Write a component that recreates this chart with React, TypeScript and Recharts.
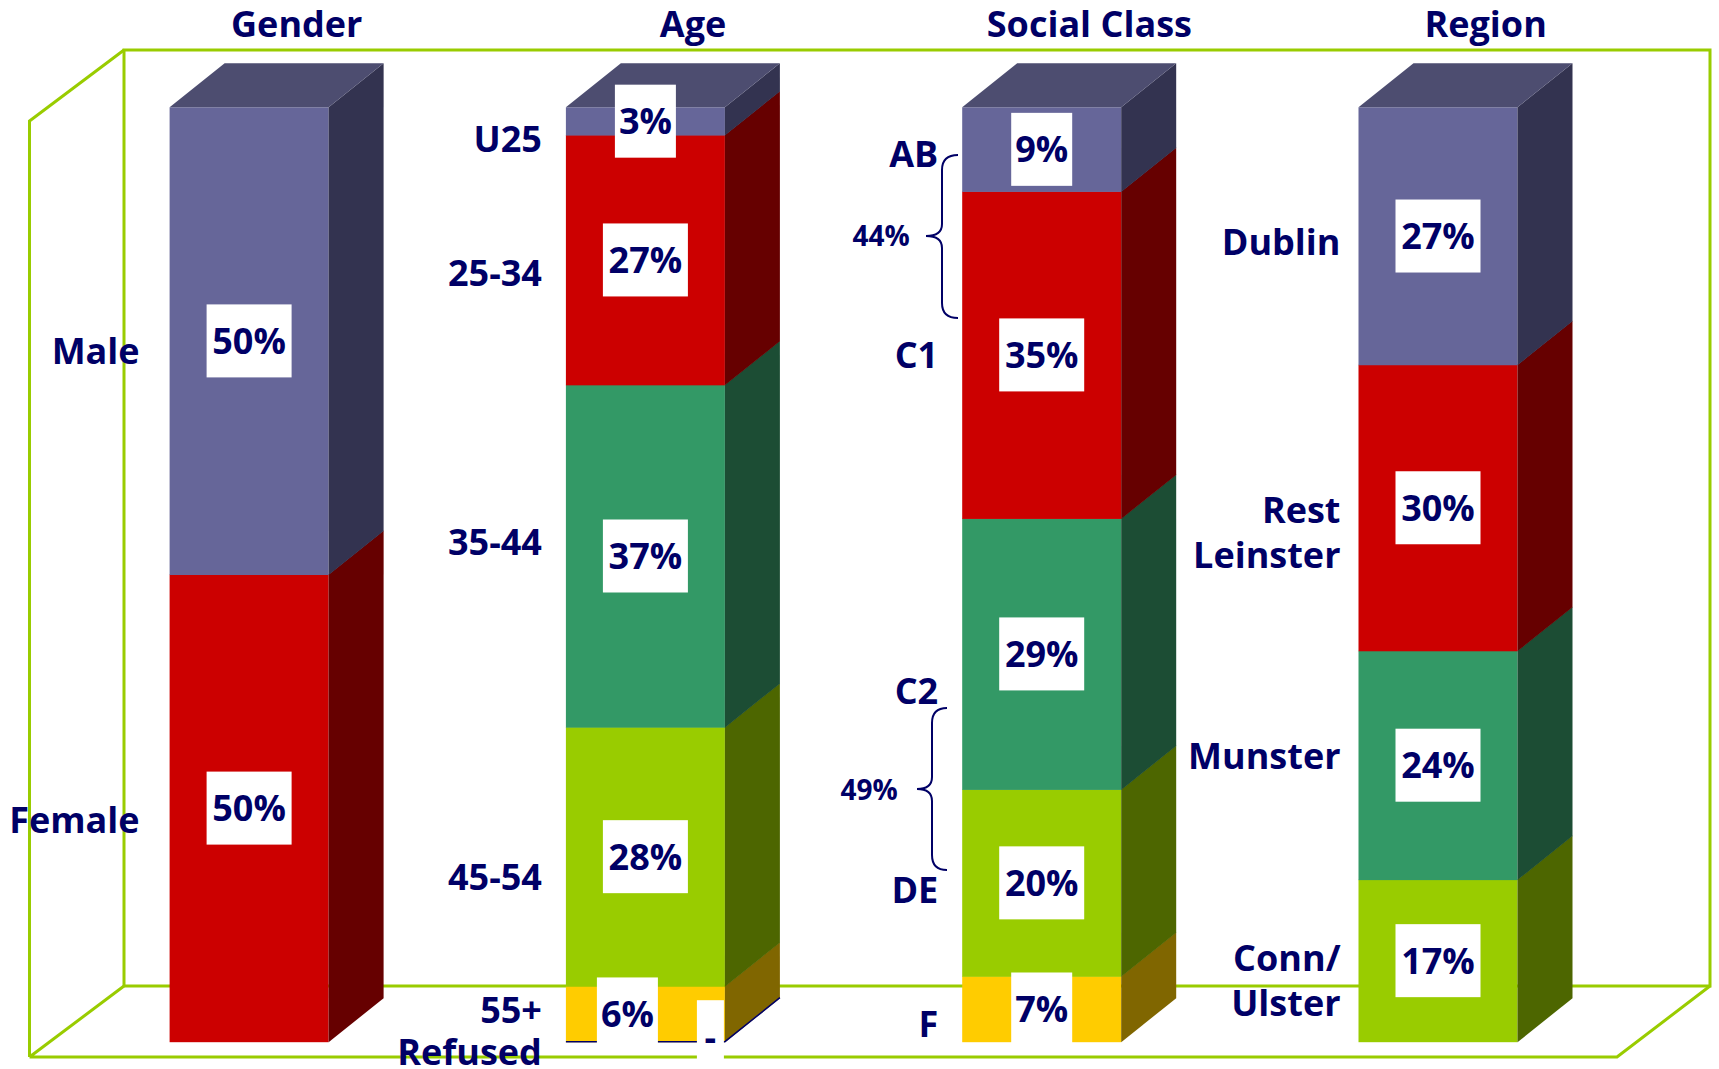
import React from 'react';
import { BarChart, Bar, XAxis, YAxis, LabelList } from 'recharts';

const categories = ['Gender', 'Age', 'Social Class', 'Region'];

// stack layers, bottom of the column first
const refusedValues = [0, 0, 0, 0];
const yellowValues = [0, 6, 7, 0];
const limeValues = [0, 28, 20, 17];
const greenValues = [0, 37, 29, 24];
const redValues = [50, 27, 35, 30];
const purpleValues = [50, 3, 9, 27];

const refusedNames = ['', 'Refused', '', ''];
const yellowNames = ['', '55+', 'F', ''];
const limeNames = ['', '45-54', 'DE', 'Conn/\nUlster'];
const greenNames = ['', '35-44', 'C2', 'Munster'];
const redNames = ['Female', '25-34', 'C1', 'Rest\nLeinster'];
const purpleNames = ['Male', 'U25', 'AB', 'Dublin'];

const refusedTags = ['', '-', '', ''];

// AB+C1 and C2+DE
const groupShares = ['44%', '49%'];

const W = 1719;
const H = 1069;
const MARGIN = { top: 107.3, right: 83.2, bottom: 27.3, left: 50.6 };
const DX = 55;
const DY = 44;
const NAVY = '#000066';
const FRAME = '#99CC00';
const FONT = "'Open Sans', 'DejaVu Sans', sans-serif";
const FS = 36;

const layers = [
  { key: 'refused', values: refusedValues, names: refusedNames, front: 'none', side: 'none' },
  { key: 'yellow', values: yellowValues, names: yellowNames, front: '#FFCC00', side: '#806600' },
  { key: 'lime', values: limeValues, names: limeNames, front: '#99CC00', side: '#4D6600' },
  { key: 'green', values: greenValues, names: greenNames, front: '#339966', side: '#1C4D34' },
  { key: 'red', values: redValues, names: redNames, front: '#CC0000', side: '#660000' },
  { key: 'purple', values: purpleValues, names: purpleNames, front: '#666699', side: '#333350', top: '#4D4D70' },
];

const rows = categories.map((name, i) => {
  const row: any = { name };
  layers.forEach((l) => {
    row[l.key] = l.values[i];
  });
  return row;
});

// hand placement of the side labels, as in the original slide
const nameGap = [30, 24, 24, 18];
const nameNudge: Record<string, number> = {
  Male: 10, Female: 12,
  U25: 18, '25-34': 13, '35-44': -14, '45-54': 20, '55+': -4, Refused: 10,
  AB: 5, C1: 0, C2: 37, DE: 7, F: 15,
  Dublin: 6, 'Rest\nLeinster': 25, Munster: -9, 'Conn/\nUlster': 20,
};
const tagShift: Record<string, { dx: number; dy: number }> = {
  'yellow-1': { dx: -18, dy: 0 },
  'refused-1': { dx: 65, dy: -5 },
};

const Box3D = ({ x, y, width, height, layer }: any) => {
  if (layer.key === 'refused' || !height || height <= 0) return null;
  const r = x + width;
  return (
    <g>
      <rect x={x} y={y} width={width} height={height + 0.5} fill={layer.front} />
      <polygon
        points={`${r},${y} ${r + DX},${y - DY} ${r + DX},${y + height - DY + 0.5} ${r},${y + height + 0.5}`}
        fill={layer.side}
      />
      {layer.top && (
        <polygon points={`${x},${y} ${x + DX},${y - DY} ${r + DX},${y - DY} ${r},${y}`} fill={layer.top} />
      )}
    </g>
  );
};

const RefusedEdge = ({ x, y, width, height, index }: any) => {
  if (!refusedTags[index]) return null;
  const b = y + height;
  return (
    <path
      d={`M${x},${b} L${x + width},${b} L${x + width + DX},${b - DY}`}
      fill="none"
      stroke={NAVY}
      strokeWidth={1.5}
    />
  );
};

const ValueTag = ({ p, layer }: any) => {
  const vb = p.viewBox ?? p;
  const i = p.index;
  const v = layer.values[i];
  const text = layer.key === 'refused' ? refusedTags[i] : v > 0 ? `${v}%` : '';
  if (!text) return null;
  const s = tagShift[`${layer.key}-${i}`] ?? { dx: 0, dy: 0 };
  const cx = vb.x + vb.width / 2 + s.dx;
  const cy = vb.y + vb.height / 2 + s.dy;
  const bw = text.length === 1 ? 27 : text.length === 2 ? 61 : 85;
  return (
    <g>
      <rect x={cx - bw / 2} y={cy - 36.5} width={bw} height={73} fill="#fff" />
      <text x={cx} y={cy + 13} textAnchor="middle" fill={NAVY} fontSize={FS} fontWeight={700} fontFamily={FONT}>
        {text}
      </text>
    </g>
  );
};

const NameTag = ({ p, layer }: any) => {
  const vb = p.viewBox ?? p;
  const i = p.index;
  const name = layer.names[i];
  if (!name) return null;
  const lines = name.split('\n');
  const cy = vb.y + vb.height / 2 + (nameNudge[name] ?? 0);
  const xr = vb.x - nameGap[i];
  return (
    <text textAnchor="end" fill={NAVY} fontSize={FS} fontWeight={700} fontFamily={FONT}>
      {lines.map((ln: string, k: number) => (
        <tspan key={k} x={xr} y={cy + 13 + (k - (lines.length - 1) / 2) * 45}>
          {ln}
        </tspan>
      ))}
    </text>
  );
};

const TitleTick = ({ x, payload }: any) => (
  <text x={x + 48} y={37} textAnchor="middle" fill={NAVY} fontSize={FS} fontWeight={700} fontFamily={FONT}>
    {payload.value}
  </text>
);

const brace = (xEnd: number, xMid: number, xTip: number, y0: number, yTip: number, y1: number) =>
  `M${xEnd},${y0} Q${xMid},${y0} ${xMid},${y0 + 15} L${xMid},${yTip - 12} Q${xMid},${yTip} ${xTip},${yTip} ` +
  `Q${xMid},${yTip} ${xMid},${yTip + 12} L${xMid},${y1 - 15} Q${xMid},${y1} ${xEnd},${y1}`;

const Frame = () => (
  <svg width={W} height={H} style={{ position: 'absolute', left: 0, top: 0 }}>
    <g stroke={FRAME} strokeWidth={3} fill="none">
      <path d="M124,986 L124,50 L1710,50 L1710,986 L124,986" />
      <path d="M29.5,1057 L29.5,121 L124,50" />
      <path d="M29.5,1057 L124,986 M29.5,1057 L1617,1057 L1710,986" />
    </g>
    <g stroke={NAVY} strokeWidth={2} fill="none">
      <path d={brace(958, 942, 926, 155, 236, 318)} />
      <path d={brace(947, 932, 917, 708, 789, 870)} />
    </g>
    <g fill={NAVY} fontSize={28} fontWeight={700} fontFamily={FONT} textAnchor="middle">
      <text x={881} y={246}>{groupShares[0]}</text>
      <text x={869} y={800}>{groupShares[1]}</text>
    </g>
  </svg>
);

export default function App() {
  return (
    <div style={{ position: 'relative', width: W, height: H, background: '#fff' }}>
      <style>{'body{margin:0}'}</style>
      <Frame />
      <div style={{ position: 'absolute', left: 0, top: 0 }}>
        <BarChart width={W} height={H} data={rows} margin={MARGIN} stackOffset="expand" barSize={159}>
          <XAxis dataKey="name" hide />
          <YAxis hide />
          {layers.map((l) => (
            <Bar
              key={l.key}
              dataKey={l.key}
              stackId="a"
              isAnimationActive={false}
              shape={(p: any) => <Box3D {...p} layer={l} />}
            />
          ))}
        </BarChart>
      </div>
      <div style={{ position: 'absolute', left: 0, top: 0 }}>
        <BarChart
          width={W}
          height={H}
          data={rows}
          margin={{ ...MARGIN, top: MARGIN.top - 60 }}
          stackOffset="expand"
          barSize={159}
        >
          <XAxis dataKey="name" orientation="top" height={60} axisLine={false} tickLine={false} tick={TitleTick} />
          <YAxis hide />
          {layers.map((l) => (
            <Bar
              key={l.key}
              dataKey={l.key}
              stackId="a"
              fill="none"
              isAnimationActive={false}
              shape={(p: any) => (l.key === 'refused' ? <RefusedEdge {...p} /> : <g />)}
            >
              <LabelList dataKey={l.key} content={(p: any) => <NameTag p={p} layer={l} />} />
              <LabelList dataKey={l.key} content={(p: any) => <ValueTag p={p} layer={l} />} />
            </Bar>
          ))}
        </BarChart>
      </div>
    </div>
  );
}
